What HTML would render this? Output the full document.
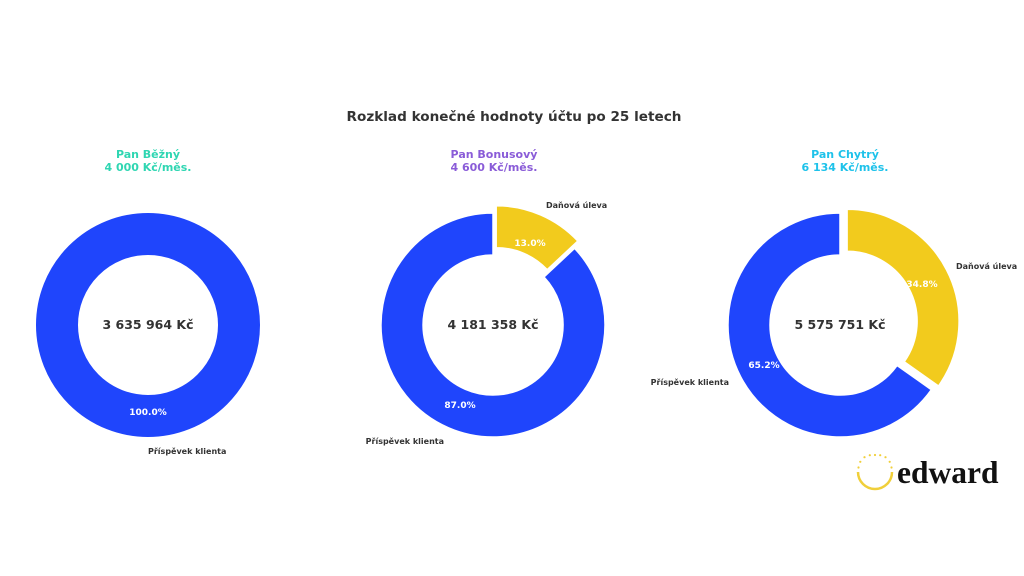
<!DOCTYPE html>
<html><head><meta charset="utf-8"><style>
html,body{margin:0;padding:0;background:#fff;}
svg{display:block;font-family:"DejaVu Sans","Liberation Sans",sans-serif;}
</style></head><body>
<svg width="1024" height="576" viewBox="0 0 1024 576" xmlns="http://www.w3.org/2000/svg">
<rect width="1024" height="576" fill="#fff"/>
<text x="514" y="121" text-anchor="middle" font-size="13.6" font-weight="bold" fill="#333">Rozklad konečné hodnoty účtu po 25 letech</text>

<text x="148" y="158" text-anchor="middle" font-size="11" font-weight="bold" fill="#2fd6b2">Pan Běžný</text>
<text x="148" y="171" text-anchor="middle" font-size="11" font-weight="bold" fill="#2fd6b2">4 000 Kč/měs.</text>
<text x="494" y="158" text-anchor="middle" font-size="11" font-weight="bold" fill="#8a5cd8">Pan Bonusový</text>
<text x="494" y="171" text-anchor="middle" font-size="11" font-weight="bold" fill="#8a5cd8">4 600 Kč/měs.</text>
<text x="845" y="158" text-anchor="middle" font-size="11" font-weight="bold" fill="#1ec2ea">Pan Chytrý</text>
<text x="845" y="171" text-anchor="middle" font-size="11" font-weight="bold" fill="#1ec2ea">6 134 Kč/měs.</text>

<!-- Donut 1 -->
<circle cx="148" cy="325" r="91" fill="none" stroke="#1f45fc" stroke-width="42"/>
<text x="148" y="329" text-anchor="middle" font-size="12.5" font-weight="bold" fill="#333">3 635 964 Kč</text>
<text x="148" y="415" text-anchor="middle" font-size="9" font-weight="bold" fill="#fff">100.0%</text>
<text x="148" y="454" font-size="8" font-weight="bold" fill="#333">Příspěvek klienta</text>

<!-- Donut 2 -->
<path d="M574.6,248.3 A112,112 0 1 1 493,213 L493,255 A70,70 0 1 0 544,277 Z" fill="#1f45fc" stroke="#fff" stroke-width="1.5"/>
<path d="M496.2,205.7 A112,112 0 0 1 577.8,241 L547.2,269.7 A70,70 0 0 0 496.2,247.7 Z" fill="#f2cb1d" stroke="#fff" stroke-width="1.5"/>
<text x="493" y="329" text-anchor="middle" font-size="12.5" font-weight="bold" fill="#333">4 181 358 Kč</text>
<text x="460" y="408" text-anchor="middle" font-size="9" font-weight="bold" fill="#fff">87.0%</text>
<text x="530" y="246" text-anchor="middle" font-size="9" font-weight="bold" fill="#fff">13.0%</text>
<text x="444" y="444" text-anchor="end" font-size="8" font-weight="bold" fill="#333">Příspěvek klienta</text>
<text x="546" y="208" font-size="8" font-weight="bold" fill="#333">Daňová úleva</text>

<!-- Donut 3 -->
<path d="M931.4,389.7 A112,112 0 1 1 840,213 L840,255 A70,70 0 1 0 897.1,365.5 Z" fill="#1f45fc" stroke="#fff" stroke-width="1.5"/>
<path d="M847.1,209.3 A112,112 0 0 1 938.5,386 L904.2,361.8 A70,70 0 0 0 847.1,251.3 Z" fill="#f2cb1d" stroke="#fff" stroke-width="1.5"/>
<text x="840" y="329" text-anchor="middle" font-size="12.5" font-weight="bold" fill="#333">5 575 751 Kč</text>
<text x="764" y="368" text-anchor="middle" font-size="9" font-weight="bold" fill="#fff">65.2%</text>
<text x="922" y="287" text-anchor="middle" font-size="9" font-weight="bold" fill="#fff">34.8%</text>
<text x="729" y="385" text-anchor="end" font-size="8" font-weight="bold" fill="#333">Příspěvek klienta</text>
<text x="956" y="269" font-size="8" font-weight="bold" fill="#333">Daňová úleva</text>

<!-- Logo -->
<path d="M858,472 A17,17 0 0 0 892,472" fill="none" stroke="#f0cf3a" stroke-width="2.5"/>
<g fill="#f0cf3a">
<circle cx="858.5" cy="467.5" r="1.1"/><circle cx="860.3" cy="461.8" r="1.1"/><circle cx="864.5" cy="457.2" r="1.1"/>
<circle cx="869.8" cy="455.2" r="1.1"/><circle cx="875" cy="455" r="1.1"/><circle cx="880.2" cy="455.2" r="1.1"/>
<circle cx="885.5" cy="457.2" r="1.1"/><circle cx="889.7" cy="461.8" r="1.1"/><circle cx="891.5" cy="467.5" r="1.1"/>
</g>
<text x="897" y="483" font-family="'Liberation Serif',serif" font-size="31.5" font-weight="bold" fill="#111">edward</text>
</svg>
</body></html>
